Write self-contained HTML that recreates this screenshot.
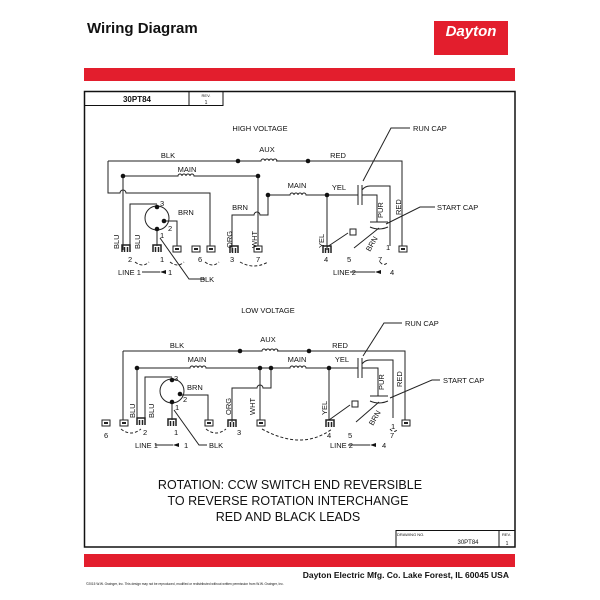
<!DOCTYPE html>
<html><head><meta charset="utf-8"><style>
html,body{margin:0;padding:0;background:#fff}
svg{display:block}
text{font-family:"Liberation Sans",Arial,sans-serif;fill:#111}
</style></head><body>
<svg width="600" height="600" viewBox="0 0 600 600" xmlns="http://www.w3.org/2000/svg">
<defs>
<g id="term"><rect x="-4" y="-3" width="8" height="6" fill="#fff" stroke="#222" stroke-width="1"/><rect x="-2" y="-1" width="4" height="2" fill="#222"/></g>
<g id="plug"><path d="M-4,4 V-3 H4 V4 M-1.5,4 V-1 M1.5,4 V-1" fill="none" stroke="#222" stroke-width="1.5"/></g>
<g id="coil"><path d="M-9,0 h2 a2,2 0 0 1 4,0 a2,2 0 0 1 4,0 a2,2 0 0 1 4,0 a2,2 0 0 1 4,0 h1" fill="none" stroke="#222" stroke-width="1"/></g>
</defs>
<text x="87" y="33" font-size="15" font-weight="bold">Wiring Diagram</text>
<rect x="434" y="21" width="74" height="34" fill="#e31e2d"/>
<text x="471" y="36" font-size="15" font-weight="bold" font-style="italic" style="fill:#fff" text-anchor="middle">Dayton</text>
<rect x="84" y="68" width="431" height="13" fill="#e31e2d"/>
<rect x="84.5" y="91.5" width="430.5" height="455.5" fill="none" stroke="#111" stroke-width="1.5"/>
<path d="M84.5,105.5 H223 V91.5 M189,91.5 V105.5" fill="none" stroke="#111" stroke-width="1"/>
<text x="137" y="102" font-size="8" font-weight="bold" text-anchor="middle">30PT84</text>
<text x="206" y="97" font-size="4" text-anchor="middle">REV.</text>
<text x="206" y="104" font-size="5" text-anchor="middle">1</text>
<path d="M396,547 V530.5 H515 M499,530.5 V547" fill="none" stroke="#111" stroke-width="1"/>
<text x="397" y="536" font-size="4">DRAWING NO.</text>
<text x="468" y="544" font-size="6" text-anchor="middle">30PT84</text>
<text x="502" y="536" font-size="4">REV.</text>
<text x="507" y="545" font-size="5" text-anchor="middle">1</text>
<rect x="84" y="554" width="431" height="13" fill="#e31e2d"/>
<text x="509" y="578" font-size="8.5" font-weight="bold" text-anchor="end">Dayton Electric Mfg. Co.  Lake Forest, IL  60045  USA</text>
<text x="86" y="585" font-size="3.2">©2015 W.W. Grainger, Inc.   This design may not be reproduced, modified or redistributed without written permission from W.W. Grainger, Inc.</text>

<g stroke="#222" stroke-width="1" fill="none">
<path d="M108,161 H259 M276,161 H402 V246"/>
<path d="M108,161 V193 H120 a3,3 0 0 1 6,0 H210 V246"/>
<path d="M123,176 H176 M194,176 H258 V246"/>
<path d="M123,176 V250 M130,250 V204 H157"/>
<circle cx="157" cy="218" r="12"/>
<path d="M165,221 H177 V246 M157,230 V246"/>
<path d="M160,238 L189,279 H205"/>
<path d="M232,252 V215 H254 a3,3 0 0 1 6,0 H268 V195 H288 M306,195 H358"/>
<path d="M327,195 V250"/>
<path d="M358,185 V205 M362,185 V205"/>
<path d="M362,190 Q365,186 370,186 H390 V246 M362,195 H377 V222"/>
<path d="M370,222 H388 M370,227 Q379,231 388,227 M379,228 L354,248"/>
<path d="M327,247 L348,233 M350,229 h6 v6 h-6z"/>
<path d="M363,181 L391,128 H410 M386,224 L420,207 H435"/>
<path d="M142,272 H160 M350,272 H375"/>
<path d="M135,262 q8,6 14,0 M170,262 q8,6 14,0 M205,262 q8,6 14,0 M240,262 q14,8 28,0 M380,262 q4,5 8,0" stroke-dasharray="3,2"/>
<path d="M123,351 H260 M277,351 H405 V420"/>
<path d="M123,351 V420 M137,368 H188 M206,368 H260 H288 M306,368 H358 M137,368 V420"/>
<path d="M145,420 V377 H172"/>
<circle cx="172" cy="391" r="12"/>
<path d="M180,395 H208 V420 M172,403 V420 M174,410 L199,445 H207"/>
<path d="M232,422 V388 H257 a3,3 0 0 1 6,0 H271 V368 M260,368 V420 M329,368 V420"/>
<path d="M358,358 V378 M362,358 V378"/>
<path d="M362,364 Q365,360 370,360 H393 V418 M362,368 H378 V396"/>
<path d="M370,396 H388 M370,401 Q379,405 388,401 M379,402 L356,422"/>
<path d="M329,420 L350,405 M352,401 h6 v6 h-6z"/>
<path d="M363,356 L384,323 H402 M390,398 L432,380 H440"/>
<path d="M155,445 H173 M348,445 H370"/>
<path d="M121,429 q10,8 20,0 M206,429 q10,8 20,0 M262,429 q40,22 70,0 M390,429 q4,5 8,0" stroke-dasharray="3,2"/>
</g>
<g fill="#111">
<circle cx="238" cy="161" r="2.3"/><circle cx="308" cy="161" r="2.3"/><circle cx="123" cy="176" r="2.3"/><circle cx="258" cy="176" r="2.3"/><circle cx="268" cy="195" r="2.3"/><circle cx="327" cy="195" r="2.3"/>
<circle cx="157" cy="207" r="2.3"/><circle cx="164" cy="221" r="2.3"/><circle cx="157" cy="229" r="2.3"/>
<circle cx="240" cy="351" r="2.3"/><circle cx="309" cy="351" r="2.3"/><circle cx="137" cy="368" r="2.3"/><circle cx="260" cy="368" r="2.3"/><circle cx="271" cy="368" r="2.3"/><circle cx="329" cy="368" r="2.3"/>
<circle cx="172" cy="380" r="2.3"/><circle cx="180" cy="394" r="2.3"/><circle cx="172" cy="402" r="2.3"/>
<path d="M160,272 l6,-2 v4z M375,272 l6,-2 v4z M173,445 l6,-2 v4z M370,445 l6,-2 v4z"/>
</g>
<use href="#coil" x="268" y="161"/><use href="#coil" x="185" y="176"/><use href="#coil" x="297" y="195"/>
<use href="#coil" x="269" y="351"/><use href="#coil" x="197" y="368"/><use href="#coil" x="297" y="368"/>
<use href="#term" x="177" y="249"/><use href="#term" x="196" y="249"/><use href="#term" x="211" y="249"/><use href="#term" x="258" y="249"/><use href="#term" x="403" y="249"/>
<use href="#plug" x="126" y="248"/><use href="#plug" x="157" y="248"/><use href="#plug" x="234" y="249"/><use href="#plug" x="327" y="249"/>
<use href="#term" x="106" y="423"/><use href="#term" x="124" y="423"/><use href="#term" x="209" y="423"/><use href="#term" x="261" y="423"/><use href="#term" x="406" y="423"/>
<use href="#plug" x="141" y="421"/><use href="#plug" x="172" y="422"/><use href="#plug" x="232" y="423"/><use href="#plug" x="330" y="423"/>
<g font-size="7.5">
<text x="260" y="131" text-anchor="middle">HIGH VOLTAGE</text>
<text x="168" y="158" text-anchor="middle">BLK</text><text x="267" y="152" text-anchor="middle">AUX</text><text x="338" y="158" text-anchor="middle">RED</text>
<text x="187" y="172" text-anchor="middle">MAIN</text><text x="297" y="188" text-anchor="middle">MAIN</text><text x="339" y="190" text-anchor="middle">YEL</text>
<text x="240" y="210" text-anchor="middle">BRN</text><text x="178" y="215">BRN</text>
<text x="413" y="131">RUN CAP</text><text x="437" y="210">START CAP</text>
<text x="160" y="206">3</text><text x="168" y="231">2</text><text x="160" y="238">1</text>
<text x="128" y="262">2</text><text x="160" y="262">1</text><text x="198" y="262">6</text><text x="230" y="262">3</text><text x="256" y="262">7</text>
<text x="324" y="262">4</text><text x="347" y="262">5</text><text x="378" y="262">7</text><text x="386" y="250">1</text>
<text x="118" y="275">LINE 1</text><text x="168" y="275">1</text><text x="333" y="275">LINE 2</text><text x="390" y="275">4</text>
<text x="200" y="282">BLK</text>
<text transform="translate(119,249) rotate(-90)">BLU</text><text transform="translate(140,249) rotate(-90)">BLU</text>
<text transform="translate(232,248) rotate(-90)">ORG</text><text transform="translate(257,248) rotate(-90)">WHT</text>
<text transform="translate(324,248) rotate(-90)">YEL</text><text transform="translate(383,218) rotate(-90)">PUR</text>
<text transform="translate(401,215) rotate(-90)">RED</text><text transform="translate(370,252) rotate(-60)">BRN</text>

<text x="268" y="313" text-anchor="middle">LOW VOLTAGE</text>
<text x="177" y="348" text-anchor="middle">BLK</text><text x="268" y="342" text-anchor="middle">AUX</text><text x="340" y="348" text-anchor="middle">RED</text>
<text x="197" y="362" text-anchor="middle">MAIN</text><text x="297" y="362" text-anchor="middle">MAIN</text><text x="342" y="362" text-anchor="middle">YEL</text>
<text x="187" y="390">BRN</text>
<text x="405" y="326">RUN CAP</text><text x="443" y="383">START CAP</text>
<text x="174" y="381">3</text><text x="183" y="402">2</text><text x="175" y="410">1</text>
<text x="104" y="438">6</text><text x="143" y="435">2</text><text x="174" y="435">1</text><text x="237" y="435">3</text>
<text x="327" y="438">4</text><text x="348" y="438">5</text><text x="390" y="438">7</text><text x="391" y="429">1</text>
<text x="135" y="448">LINE 1</text><text x="184" y="448">1</text><text x="330" y="448">LINE 2</text><text x="382" y="448">4</text>
<text x="209" y="448">BLK</text>
<text transform="translate(135,418) rotate(-90)">BLU</text><text transform="translate(154,418) rotate(-90)">BLU</text>
<text transform="translate(231,415) rotate(-90)">ORG</text><text transform="translate(255,415) rotate(-90)">WHT</text>
<text transform="translate(327,415) rotate(-90)">YEL</text><text transform="translate(384,390) rotate(-90)">PUR</text>
<text transform="translate(402,387) rotate(-90)">RED</text><text transform="translate(373,426) rotate(-60)">BRN</text>
</g>
<g font-size="12.5" text-anchor="middle">
<text x="290" y="489">ROTATION:  CCW SWITCH END REVERSIBLE</text>
<text x="288" y="505">TO REVERSE ROTATION INTERCHANGE</text>
<text x="288" y="521">RED AND BLACK LEADS</text>
</g>
</svg>
</body></html>
